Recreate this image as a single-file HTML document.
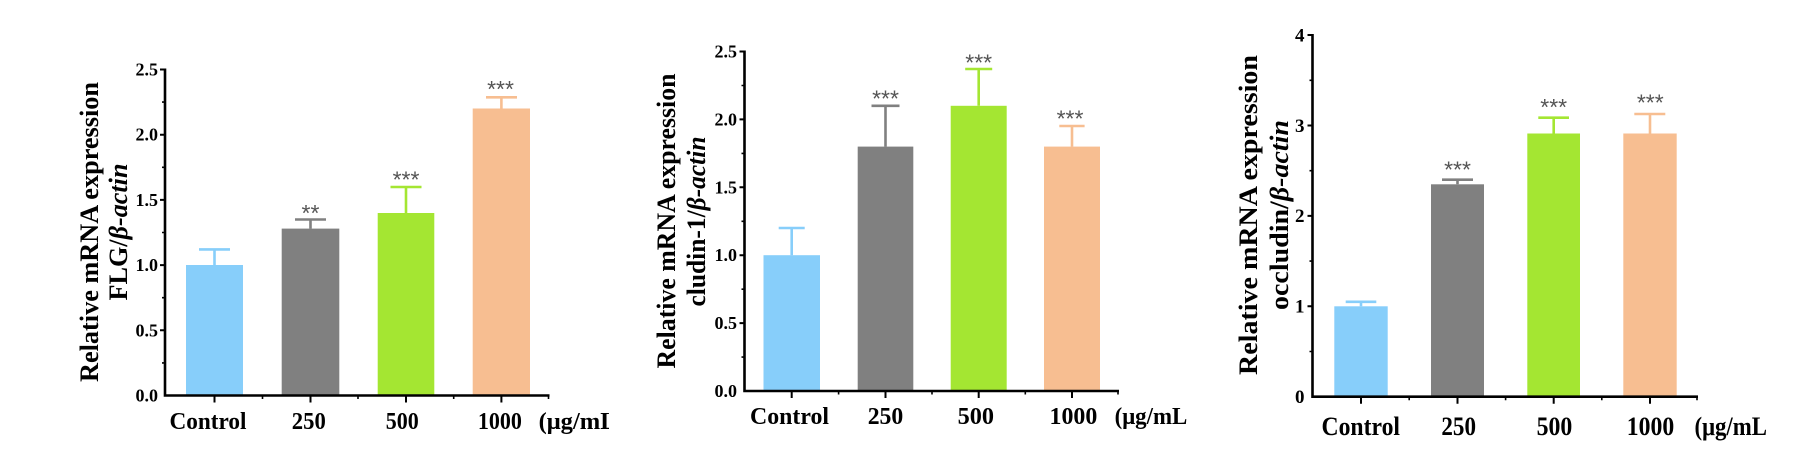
<!DOCTYPE html>
<html>
<head>
<meta charset="utf-8">
<style>
html,body{margin:0;padding:0;background:#fff;}
svg{display:block;}
.t{font-family:"Liberation Serif",serif;font-weight:bold;fill:#000;}
.s{font-family:"Liberation Sans",sans-serif;fill:#555;font-size:23px;text-anchor:middle;}
</style>
</head>
<body>
<svg width="1799" height="460" viewBox="0 0 1799 460" xmlns="http://www.w3.org/2000/svg">
<defs>
<clipPath id="c1"><rect x="530" y="400" width="79" height="50"/></clipPath>
</defs>
<rect width="1799" height="460" fill="#fff"/>

<!-- ============ CHART 1 ============ -->
<g>
<!-- bars -->
<rect x="186" y="265" width="57" height="130.5" fill="#87CEFA"/>
<rect x="281.7" y="228.6" width="57.6" height="166.9" fill="#808080"/>
<rect x="377.7" y="213" width="56.6" height="182.5" fill="#A4E632"/>
<rect x="472.7" y="108.5" width="57.3" height="287" fill="#F7BE91"/>
<!-- error bars -->
<g stroke-width="2.6" fill="none">
<path d="M214.5 265V249.4M199 249.4H230" stroke="#87CEFA"/>
<path d="M310.5 228.6V219.5M295 219.5H326" stroke="#808080"/>
<path d="M406 213V187M390.5 187H421.5" stroke="#A4E632"/>
<path d="M501.4 108.5V97.3M486 97.3H517" stroke="#F7BE91"/>
</g>
<text class="s" x="310.5" y="221">**</text>
<text class="s" x="406" y="187.5">***</text>
<text class="s" x="500.5" y="96.8">***</text>
<!-- axes -->
<g stroke="#000" fill="none">
<path d="M165 68.5V396.8M163.8 395.5H549.5" stroke-width="2.6"/>
<path d="M160 69.5H165M160 134.7H165M160 199.9H165M160 265.1H165M160 330.3H165" stroke-width="2"/>
<path d="M162 102.1H165M162 167.3H165M162 232.5H165M162 297.7H165M162 362.9H165" stroke-width="1.6"/>
<path d="M214.5 395.5V402.5M310.5 395.5V402.5M406 395.5V402.5M501.4 395.5V402.5" stroke-width="2"/>
<path d="M262.5 395.5V399M358 395.5V399M453.7 395.5V399M548.5 395.5V399" stroke-width="1.6"/>
</g>
<g class="t" font-size="18" text-anchor="end">
<text x="158" y="401.5">0.0</text>
<text x="158" y="336.3">0.5</text>
<text x="158" y="271.1">1.0</text>
<text x="158" y="205.9">1.5</text>
<text x="158" y="140.7">2.0</text>
<text x="158" y="75.5">2.5</text>
</g>
<g class="t" font-size="24">
<text x="169.5" y="429" textLength="77" lengthAdjust="spacingAndGlyphs">Control</text>
<text x="291.8" y="429" textLength="34" lengthAdjust="spacingAndGlyphs">250</text>
<text x="385.7" y="429" textLength="33" lengthAdjust="spacingAndGlyphs">500</text>
<text x="477.9" y="429" textLength="44" lengthAdjust="spacingAndGlyphs">1000</text>
<text x="538.6" y="429" textLength="78" lengthAdjust="spacingAndGlyphs" clip-path="url(#c1)">(μg/mL</text>
</g>
<text class="t" font-size="26.5" text-anchor="middle" transform="translate(98,232) rotate(-90)" textLength="300" lengthAdjust="spacingAndGlyphs">Relative mRNA expression</text>
<text class="t" font-size="26.5" text-anchor="middle" transform="translate(127,232) rotate(-90)" textLength="137" lengthAdjust="spacingAndGlyphs">FLG/<tspan font-style="italic">β-actin</tspan></text>
</g>

<!-- ============ CHART 2 ============ -->
<g>
<rect x="763.5" y="255.2" width="56.5" height="135.8" fill="#87CEFA"/>
<rect x="857.7" y="146.6" width="55.6" height="244.4" fill="#808080"/>
<rect x="950.7" y="105.8" width="56" height="285.2" fill="#A4E632"/>
<rect x="1044" y="146.6" width="56" height="244.4" fill="#F7BE91"/>
<g stroke-width="2.6" fill="none">
<path d="M791.7 255.2V228M778.7 228H804.7" stroke="#87CEFA"/>
<path d="M885.5 146.6V105.8M871.5 105.8H899.5" stroke="#808080"/>
<path d="M978.7 105.8V69M965.2 69H992.2" stroke="#A4E632"/>
<path d="M1072 146.6V126M1059.3 126H1084.6" stroke="#F7BE91"/>
</g>
<text class="s" x="885.5" y="106.7">***</text>
<text class="s" x="978.7" y="70.7">***</text>
<text class="s" x="1070" y="126.7">***</text>
<g stroke="#000" fill="none">
<path d="M744.5 50.5V392.3M743.3 391H1119" stroke-width="2.6"/>
<path d="M739.5 51.5H744.5M739.5 119.4H744.5M739.5 187.3H744.5M739.5 255.2H744.5M739.5 323.1H744.5" stroke-width="2"/>
<path d="M741.5 85.5H744.5M741.5 153.4H744.5M741.5 221.3H744.5M741.5 289.2H744.5M741.5 357.1H744.5" stroke-width="1.6"/>
<path d="M791.7 391V398M885.5 391V398M978.7 391V398M1072 391V398" stroke-width="2"/>
<path d="M838.6 391V394.5M932 391V394.5M1025.3 391V394.5M1118 391V394.5" stroke-width="1.6"/>
</g>
<g class="t" font-size="18" text-anchor="end">
<text x="737" y="397">0.0</text>
<text x="737" y="329.1">0.5</text>
<text x="737" y="261.2">1.0</text>
<text x="737" y="193.3">1.5</text>
<text x="737" y="125.4">2.0</text>
<text x="737" y="57.5">2.5</text>
</g>
<g class="t" font-size="24">
<text x="750" y="424" textLength="79" lengthAdjust="spacingAndGlyphs">Control</text>
<text x="867.7" y="424" textLength="35.6" lengthAdjust="spacingAndGlyphs">250</text>
<text x="957.6" y="424" textLength="36.4" lengthAdjust="spacingAndGlyphs">500</text>
<text x="1049.5" y="424" textLength="47.8" lengthAdjust="spacingAndGlyphs">1000</text>
<text x="1114.6" y="424" textLength="72.7" lengthAdjust="spacingAndGlyphs">(μg/mL</text>
</g>
<text class="t" font-size="26" text-anchor="middle" transform="translate(675,221) rotate(-90)" textLength="295" lengthAdjust="spacingAndGlyphs">Relative mRNA expression</text>
<text class="t" font-size="26" text-anchor="middle" transform="translate(705,221.5) rotate(-90)" textLength="170" lengthAdjust="spacingAndGlyphs">cludin-1/<tspan font-style="italic">β-actin</tspan></text>
</g>

<!-- ============ CHART 3 ============ -->
<g>
<rect x="1334.3" y="306.3" width="53.4" height="90.4" fill="#87CEFA"/>
<rect x="1431" y="184.3" width="53" height="212.4" fill="#808080"/>
<rect x="1527.3" y="133.5" width="52.7" height="263.2" fill="#A4E632"/>
<rect x="1623.3" y="133.5" width="53.4" height="263.2" fill="#F7BE91"/>
<g stroke-width="2.6" fill="none">
<path d="M1361 306.3V301.8M1345.7 301.8H1376.3" stroke="#87CEFA"/>
<path d="M1457.5 184.3V179.7M1442 179.7H1473" stroke="#808080"/>
<path d="M1553.7 133.5V117.7M1538.3 117.7H1569" stroke="#A4E632"/>
<path d="M1650 133.5V114M1634.3 114H1665.3" stroke="#F7BE91"/>
</g>
<text class="s" x="1457.5" y="177.4">***</text>
<text class="s" x="1553.7" y="115.1">***</text>
<text class="s" x="1650.3" y="110.7">***</text>
<g stroke="#000" fill="none">
<path d="M1312.5 34V398M1311.3 396.7H1698" stroke-width="2.6"/>
<path d="M1307.5 35H1312.5M1307.5 125.5H1312.5M1307.5 215.9H1312.5M1307.5 306.3H1312.5" stroke-width="2"/>
<path d="M1309.5 80.3H1312.5M1309.5 170.7H1312.5M1309.5 261.1H1312.5M1309.5 351.5H1312.5" stroke-width="1.6"/>
<path d="M1361 396.7V403.7M1457.5 396.7V403.7M1553.7 396.7V403.7M1650 396.7V403.7" stroke-width="2"/>
<path d="M1409.2 396.7V400.2M1505.6 396.7V400.2M1601.8 396.7V400.2M1697 396.7V400.2" stroke-width="1.6"/>
</g>
<g class="t" font-size="19" text-anchor="end">
<text x="1304.5" y="403">0</text>
<text x="1304.5" y="312.6">1</text>
<text x="1304.5" y="222.2">2</text>
<text x="1304.5" y="131.8">3</text>
<text x="1304.5" y="41.3">4</text>
</g>
<g class="t" font-size="26">
<text x="1321.5" y="435" textLength="78.5" lengthAdjust="spacingAndGlyphs">Control</text>
<text x="1441.4" y="435" textLength="34.6" lengthAdjust="spacingAndGlyphs">250</text>
<text x="1536.6" y="435" textLength="35.7" lengthAdjust="spacingAndGlyphs">500</text>
<text x="1626.8" y="435" textLength="47.4" lengthAdjust="spacingAndGlyphs">1000</text>
<text x="1694.5" y="435" textLength="72.5" lengthAdjust="spacingAndGlyphs">(μg/mL</text>
</g>
<text class="t" font-size="26" text-anchor="middle" transform="translate(1257,215) rotate(-90)" textLength="320" lengthAdjust="spacingAndGlyphs">Relative mRNA expression</text>
<text class="t" font-size="26" text-anchor="middle" transform="translate(1288,215) rotate(-90)" textLength="190" lengthAdjust="spacingAndGlyphs">occludin/<tspan font-style="italic">β-actin</tspan></text>
</g>
</svg>
</body>
</html>
